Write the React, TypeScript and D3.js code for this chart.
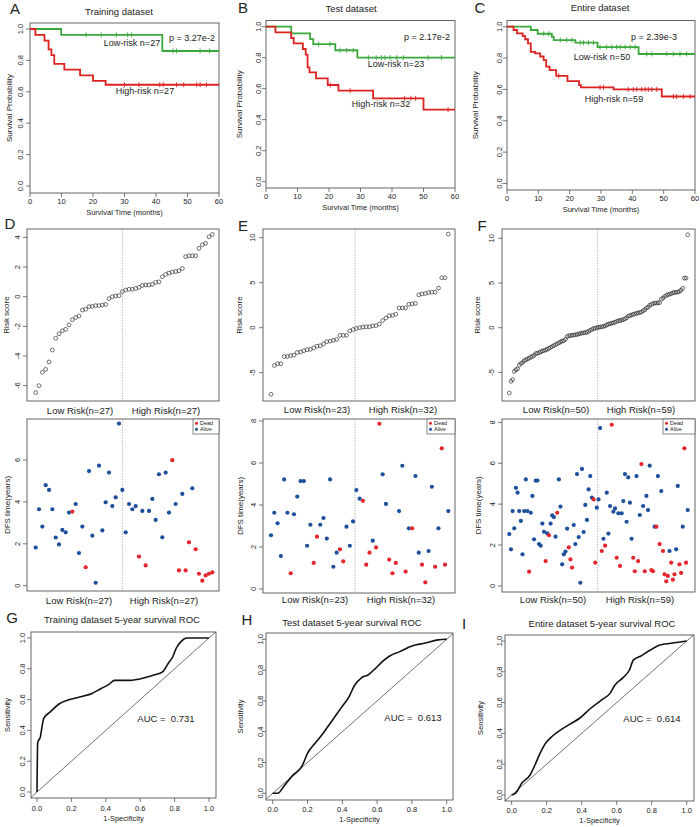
import React from "react";
import * as d3 from "d3";

const FONT = "Arial, 'Liberation Sans', Helvetica, sans-serif";
const TXT = "#222";
const AX = "#555";
const GREEN = "#3aa83a";
const RED = "#dd2222";
const DOT_RED = "#e3262b";
const DOT_BLUE = "#1d4f9c";

// ---------------- Kaplan–Meier data (months, survival probability) ----------------
const kmA_lowT = [0, 9.9, 42];
const kmA_lowS = [1, 0.963, 0.86];
const kmA_lowC = [17.8, 22.6, 27.4, 31, 32.2, 45.4, 46.5, 54, 57];
const kmA_highT = [0, 1.7, 4.6, 5.9, 6.8, 7.7, 10.9, 15.9, 20, 24];
const kmA_highS = [1, 0.963, 0.926, 0.87, 0.833, 0.778, 0.741, 0.704, 0.67, 0.645];
const kmA_highC = [30, 34.6, 41.2, 42.3, 46.5, 48.8, 52.9, 54, 56];

const kmB_lowT = [0, 8, 14, 15, 22, 29];
const kmB_lowS = [1, 0.957, 0.92, 0.887, 0.848, 0.8];
const kmB_lowC = [16.7, 20.3, 23.5, 25.6, 27.7, 32.5, 35, 36.7, 37.8, 39.4, 41.5, 43.6, 51.5, 55.7];
const kmB_highT = [0, 3, 8, 8.8, 11.7, 12.6, 13.2, 13.8, 15.9, 19.6, 23, 34, 50];
const kmB_highS = [1, 0.963, 0.927, 0.892, 0.856, 0.82, 0.738, 0.705, 0.667, 0.624, 0.587, 0.538, 0.465];
const kmB_highC = [20.4, 26.7, 44, 46, 47.5, 57.8];

const kmC_lowT = [0, 7.6, 9.8, 14.3, 14.9, 21.8, 28.9, 42];
const kmC_lowS = [1, 0.979, 0.955, 0.936, 0.915, 0.898, 0.87, 0.826];
const kmC_lowC = [11.7, 13.3, 17, 19.1, 20.7, 23.4, 24.4, 26, 27.6, 29.7, 31.8, 33.4, 35, 36.1, 37.7, 39.3, 40.9, 44.6, 46.2, 51, 53.1, 55.2, 57.3];
const kmC_highT = [0, 2.1, 3.2, 5, 5.8, 6.7, 7.6, 9, 10.6, 11.7, 12.5, 13.6, 15.7, 19.3, 23, 23.6, 34, 49.4];
const kmC_highS = [1, 0.979, 0.957, 0.94, 0.92, 0.894, 0.84, 0.83, 0.81, 0.787, 0.745, 0.723, 0.687, 0.653, 0.628, 0.613, 0.6, 0.555];
const kmC_highC = [16.5, 29.7, 30.8, 38.7, 40.3, 41.4, 43, 44.1, 45.1, 46.2, 47.8, 53.1, 54.1, 56.3, 58.4];

// ---------------- Risk scores (sorted) ----------------
const riskD = [-6.47, -6.0, -5.1, -4.9, -4.4, -3.6, -2.8, -2.5, -2.3, -2.2, -1.9, -1.55, -1.4, -1.3, -0.9, -0.85, -0.67, -0.65, -0.6, -0.6, -0.56, -0.52, -0.13, 0.0, 0.05, 0.07, 0.34,
  0.45, 0.5, 0.5, 0.56, 0.63, 0.76, 0.79, 0.79, 0.83, 0.97, 1.0, 1.35, 1.5, 1.6, 1.66, 1.7, 1.75, 1.9, 2.7, 2.76, 2.76, 2.76, 3.26, 3.5, 3.6, 4.04, 4.2];
const riskE = [-7.4, -4.2, -4.0, -4.0, -3.2, -3.2, -3.1, -3.05, -2.75, -2.7, -2.55, -2.45, -2.4, -2.25, -2.05, -2.0, -1.8, -1.55, -1.5, -1.4, -1.3, -0.85, -0.85, -0.85,
  -0.35, -0.2, -0.08, 0.0, 0.08, 0.1, 0.1, 0.2, 0.23, 0.4, 0.8, 1.07, 1.33, 1.37, 1.5, 2.2, 2.2, 2.2, 2.6, 2.65, 2.7, 3.65, 3.75, 3.8, 3.9, 3.95, 3.95, 4.4, 5.55, 5.55, 10.4];
const riskF = [-7.3, -6.0, -5.8, -4.9, -4.7, -4.6, -4.2, -4.0, -3.9, -3.7, -3.6, -3.5, -3.4, -3.3, -3.2, -3.1, -2.9, -2.85, -2.8, -2.7,
  -2.6, -2.55, -2.5, -2.4, -2.3, -2.2, -2.1, -2.0, -1.9, -1.8, -1.7, -1.6, -1.5, -1.45, -1.3, -1.0, -0.9, -0.88, -0.85, -0.82,
  -0.8, -0.75, -0.7, -0.65, -0.6, -0.58, -0.55, -0.5, -0.4, -0.3, -0.2, -0.1, -0.05, 0.0, 0.05, 0.07, 0.1, 0.15, 0.2, 0.3,
  0.4, 0.45, 0.5, 0.55, 0.6, 0.7, 0.78, 0.8, 0.85, 0.9, 1.0, 1.1, 1.3, 1.35, 1.4, 1.5, 1.55, 1.6, 1.65, 1.7,
  1.75, 1.9, 2.0, 2.2, 2.3, 2.5, 2.6, 2.7, 2.75, 2.76, 2.77, 2.8, 3.2, 3.3, 3.5, 3.6, 3.7, 3.75, 3.8, 3.9,
  3.95, 3.95, 4.0, 4.04, 4.2, 4.4, 5.55, 5.55, 10.4];

// ---------------- DFS time (years) and status (1 = dead, 0 = alive) ----------------
const dfsD = [1.82, 3.65, 2.82, 4.8, 4.57, 3.65, 2.3, 1.97, 2.66, 2.55, 3.49, 3.54, 3.9, 1.56, 2.82, 0.88, 5.47, 2.39, 0.14, 5.73, 2.64, 3.98, 5.4, 3.8, 4.22, 7.74, 4.57,
  2.55, 3.9, 3.65, 3.8, 1.39, 3.57, 0.97, 3.57, 4.14, 3.14, 5.32, 2.31, 5.4, 3.49, 5.99, 3.9, 0.73, 4.38, 0.73, 2.07, 4.65, 1.74, 0.57, 0.24, 0.49, 0.57, 0.64];
const deadD = [0, 0, 0, 0, 0, 0, 0, 0, 0, 0, 0, 1, 0, 0, 0, 1, 0, 0, 0, 0, 0, 0, 0, 0, 0, 0, 0,
  0, 0, 0, 0, 1, 0, 1, 0, 0, 0, 0, 0, 0, 0, 1, 0, 1, 0, 1, 1, 0, 1, 1, 1, 1, 1, 1];
const dfsE = [2.56, 3.63, 3.13, 1.57, 5.22, 3.63, 0.75, 3.56, 4.4, 5.14, 5.14, 2.06, 3.06, 1.24, 2.49, 3.06, 3.38, 2.4, 5.22, 1.06, 1.73, 1.89, 1.32, 2.97, 2.06, 3.22, 4.71,
  4.3, 4.2, 1.16, 1.73, 2.3, 1.98, 7.87, 5.46, 4.05, 1.4, 0.75, 1.24, 3.71, 5.87, 0.83, 2.89, 2.89, 5.38, 1.73, 1.16, 0.32, 1.81, 4.87, 1.06, 2.89, 6.7, 1.16, 3.71];
const deadE = [0, 0, 0, 0, 0, 0, 1, 0, 0, 0, 0, 0, 0, 1, 1, 0, 0, 0, 0, 0, 0, 1, 1, 0, 0, 0, 0,
  0, 1, 1, 1, 0, 1, 1, 0, 0, 1, 1, 1, 0, 0, 1, 0, 1, 0, 0, 1, 1, 0, 0, 1, 0, 1, 1, 0];
const dfsF = [2.54, 1.79, 3.66, 2.82, 4.8, 4.56, 3.66, 3.18, 1.55, 3.66, 5.21, 3.66, 0.7, 3.58, 4.4, 2.28, 5.15, 5.15, 2.05, 1.97,
  3.05, 2.65, 1.22, 2.57, 2.48, 3.05, 3.45, 3.37, 2.41, 3.58, 5.21, 3.88, 1.06, 1.55, 1.68, 2.8, 1.89, 1.3, 0.9, 2.98,
  2.05, 5.47, 2.39, 0.16, 5.72, 2.64, 3.96, 3.23, 4.72, 5.37, 4.32, 4.23, 1.14, 3.83, 4.23, 7.72,
  1.71, 2.31, 1.97, 4.56, 2.56, 3.91, 7.88, 3.63, 3.79, 1.38, 3.55, 0.98, 3.55, 4.15, 5.47, 3.14, 5.31, 4.07, 2.31, 1.38,
  0.72, 5.37, 1.22, 3.47, 5.96, 3.91, 0.72, 4.4, 3.71, 5.88, 0.78, 0.72, 2.9, 2.9, 5.37, 2.05, 4.64, 1.71, 0.57, 0.23,
  0.49, 1.71, 1.14, 0.31, 0.57, 1.79, 4.89, 1.06, 0.64, 2.9, 6.73, 1.14, 3.71];
const deadF = [0, 0, 0, 0, 0, 0, 0, 0, 0, 0, 0, 0, 1, 0, 0, 0, 0, 0, 0, 0,
  0, 0, 1, 0, 1, 0, 0, 0, 0, 1, 0, 0, 0, 0, 0, 0, 1, 1, 1, 0,
  0, 0, 0, 0, 0, 0, 0, 0, 0, 0, 0, 1, 1, 0, 0, 0,
  1, 0, 1, 0, 0, 0, 1, 0, 0, 1, 0, 1, 0, 0, 0, 0, 0, 0, 0, 1,
  1, 0, 1, 0, 1, 0, 1, 0, 0, 0, 1, 1, 0, 1, 0, 1, 0, 1, 1, 1,
  1, 0, 1, 1, 1, 0, 0, 1, 1, 0, 1, 1, 0];

// ---------------- ROC curves ----------------
const rocG_fpr = [0, 0.004, 0.02, 0.03, 0.04, 0.077, 0.126, 0.19, 0.26, 0.32, 0.37, 0.42, 0.45, 0.54, 0.62, 0.68, 0.73, 0.76, 0.79, 0.81, 0.84, 0.87, 1];
const rocG_tpr = [0, 0.32, 0.36, 0.43, 0.48, 0.52, 0.57, 0.6, 0.62, 0.64, 0.67, 0.7, 0.725, 0.725, 0.74, 0.76, 0.78, 0.83, 0.88, 0.935, 0.98, 1, 1];
const rocH_fpr = [0, 0.03, 0.06, 0.11, 0.17, 0.2, 0.24, 0.29, 0.34, 0.39, 0.44, 0.47, 0.51, 0.55, 0.59, 0.63, 0.67, 0.73, 0.8, 0.87, 0.95, 1];
const rocH_tpr = [0, 0, 0.04, 0.11, 0.18, 0.26, 0.32, 0.39, 0.47, 0.55, 0.63, 0.7, 0.75, 0.77, 0.81, 0.855, 0.89, 0.92, 0.957, 0.974, 0.996, 1];
const rocI_fpr = [0, 0.025, 0.057, 0.105, 0.133, 0.162, 0.19, 0.23, 0.276, 0.333, 0.39, 0.448, 0.514, 0.562, 0.59, 0.638, 0.672, 0.695, 0.743, 0.79, 0.848, 0.943, 1];
const rocI_tpr = [0, 0.015, 0.076, 0.13, 0.195, 0.27, 0.33, 0.38, 0.42, 0.46, 0.5, 0.56, 0.617, 0.66, 0.714, 0.764, 0.81, 0.876, 0.905, 0.94, 0.974, 0.99, 1];

const kmXTicks = [0, 10, 20, 30, 40, 50, 60];
const kmYTicks = [0, 0.2, 0.4, 0.6, 0.8, 1.0];
const rocTicks = [0, 0.2, 0.4, 0.6, 0.8, 1.0];
const riskTicksD = [-6, -4, -2, 0, 2, 4];
const riskTicksEF = [-5, 0, 5, 10];
const dfsTicksD = [0, 2, 4, 6];
const dfsTicksEF = [0, 2, 4, 6, 8];

// ---------------- helpers ----------------
function survAt(T: number[], S: number[], t: number) {
  let s = S[0];
  for (let i = 0; i < T.length; i++) if (T[i] <= t) s = S[i];
  return s;
}

function YAxis({ scale, ticks, x0, lx, fmt, fs = 7.5 }: any) {
  return (
    <g>
      {ticks.map((v: number, i: number) => (
        <g key={i}>
          <line x1={x0 - 4} x2={x0} y1={scale(v)} y2={scale(v)} stroke={AX} strokeWidth={0.8} />
          <text transform={`translate(${lx},${scale(v)}) rotate(-90)`} textAnchor="middle" dominantBaseline="central" fontSize={fs} fill={TXT}>
            {fmt(v)}
          </text>
        </g>
      ))}
    </g>
  );
}

function XAxis({ scale, ticks, y0, ly, fmt, fs = 7.5 }: any) {
  return (
    <g>
      {ticks.map((v: number, i: number) => (
        <g key={i}>
          <line x1={scale(v)} x2={scale(v)} y1={y0} y2={y0 + 4} stroke={AX} strokeWidth={0.8} />
          <text x={scale(v)} y={ly} textAnchor="middle" dominantBaseline="central" fontSize={fs} fill={TXT}>
            {fmt(v)}
          </text>
        </g>
      ))}
    </g>
  );
}

function VText({ x, y, children, fs = 8 }: any) {
  return (
    <text transform={`translate(${x},${y}) rotate(-90)`} textAnchor="middle" dominantBaseline="central" fontSize={fs} fill={TXT}>
      {children}
    </text>
  );
}

function Txt({ x, y, children, fs = 9, anchor = "middle" }: any) {
  return (
    <text x={x} y={y} textAnchor={anchor} dominantBaseline="central" fontSize={fs} fill={TXT} style={{ whiteSpace: "pre" }}>
      {children}
    </text>
  );
}

const f1 = (v: number) => v.toFixed(1);
const f0 = (v: number) => String(v);

// ---------------- KM panel ----------------
function KMPanel({ p }: any) {
  const [l, t, r, b] = p.box;
  const x = d3.scaleLinear().domain([0, 60]).range([l, r]);
  const y = d3.scaleLinear().domain([0, 1]).range([p.y0, p.y1]);
  const line = d3.line<number[]>().x((d) => x(d[0])).y((d) => y(d[1])).curve(d3.curveStepAfter);
  const groups = [
    { T: p.lowT, S: p.lowS, C: p.lowC, color: GREEN },
    { T: p.highT, S: p.highS, C: p.highC, color: RED },
  ];
  return (
    <g>
      <rect x={l} y={t} width={r - l} height={b - t} fill="none" stroke={AX} strokeWidth={0.9} />
      {groups.map((g, gi) => {
        const pts = g.T.map((tt: number, i: number) => [tt, g.S[i]]);
        pts.push([60, g.S[g.S.length - 1]]);
        return (
          <g key={gi}>
            <path d={line(pts) || ""} fill="none" stroke={g.color} strokeWidth={1.8} />
            {g.C.map((c: number, ci: number) => {
              const yy = y(survAt(g.T, g.S, c));
              return <line key={ci} x1={x(c)} x2={x(c)} y1={yy - 2.5} y2={yy + 2.5} stroke={g.color} strokeWidth={0.9} />;
            })}
          </g>
        );
      })}
      <YAxis scale={y} ticks={kmYTicks} x0={l} lx={p.ytx} fmt={f1} />
      <XAxis scale={x} ticks={kmXTicks} y0={b} ly={b + 8} fmt={f0} />
      <Txt x={(l + r) / 2} y={b + 19} fs={7.5}>Survival Time (months)</Txt>
      <VText x={p.ylx} y={(t + b) / 2} fs={8}>Survival Probability</VText>
      <Txt x={p.title[1]} y={p.title[2]} fs={9.5}>{p.title[0]}</Txt>
      <Txt x={p.letter[1]} y={p.letter[2]} fs={15}>{p.letter[0]}</Txt>
      <Txt x={p.pv[1]} y={p.pv[2]} fs={9}>{p.pv[0]}</Txt>
      <Txt x={p.lowLab[1]} y={p.lowLab[2]} fs={9}>{p.lowLab[0]}</Txt>
      <Txt x={p.highLab[1]} y={p.highLab[2]} fs={9}>{p.highLab[0]}</Txt>
    </g>
  );
}

// ---------------- Risk score panel ----------------
function RiskPanel({ p }: any) {
  const [l, t, r, b] = p.box;
  const n = p.data.length;
  const x = d3.scaleLinear().domain([1, n]).range(p.xr);
  const y = d3.scaleLinear().domain(p.yd).range(p.yr);
  return (
    <g>
      <rect x={l} y={t} width={r - l} height={b - t} fill="none" stroke={AX} strokeWidth={0.9} />
      <line x1={x(p.div)} x2={x(p.div)} y1={t} y2={b} stroke="#888" strokeWidth={0.7} strokeDasharray="1.2,1.4" />
      {p.data.map((v: number, i: number) => (
        <circle key={i} cx={x(i + 1)} cy={y(v)} r={1.9} fill="none" stroke="#333" strokeWidth={0.7} />
      ))}
      <YAxis scale={y} ticks={p.ticks} x0={l} lx={p.ytx} fmt={f0} />
      <VText x={p.ylx} y={(t + b) / 2} fs={8}>Risk score</VText>
      <Txt x={p.lowL[0]} y={p.labY} fs={9.5}>{p.lowL[1]}</Txt>
      <Txt x={p.highL[0]} y={p.labY} fs={9.5}>{p.highL[1]}</Txt>
      <Txt x={p.letter[1]} y={p.letter[2]} fs={15}>{p.letter[0]}</Txt>
    </g>
  );
}

// ---------------- DFS scatter panel ----------------
function DfsPanel({ p }: any) {
  const [l, t, r, b] = p.box;
  const n = p.data.length;
  const x = d3.scaleLinear().domain([1, n]).range(p.xr);
  const y = d3.scaleLinear().domain(p.yd).range(p.yr);
  const lg = p.legX;
  return (
    <g>
      <rect x={l} y={t} width={r - l} height={b - t} fill="none" stroke={AX} strokeWidth={0.9} />
      <line x1={x(p.div)} x2={x(p.div)} y1={t} y2={b} stroke="#888" strokeWidth={0.7} strokeDasharray="1.2,1.4" />
      {p.data.map((v: number, i: number) => (
        <circle key={i} cx={x(i + 1)} cy={y(v)} r={2.1} fill={p.dead[i] ? DOT_RED : DOT_BLUE} />
      ))}
      <rect x={lg} y={t} width={r - lg} height={15} fill="white" stroke={AX} strokeWidth={0.7} />
      <circle cx={lg + 3.5} cy={t + 4.2} r={1.5} fill={DOT_RED} />
      <circle cx={lg + 3.5} cy={t + 10.2} r={1.5} fill={DOT_BLUE} />
      <Txt x={lg + 7} y={t + 4.2} fs={5.5} anchor="start">Dead</Txt>
      <Txt x={lg + 7} y={t + 10.2} fs={5.5} anchor="start">Alive</Txt>
      <YAxis scale={y} ticks={p.ticks} x0={l} lx={p.ytx} fmt={f0} />
      <VText x={p.ylx} y={(t + b) / 2} fs={8}>DFS time(years)</VText>
      <Txt x={p.lowL[0]} y={p.labY} fs={9.5}>{p.lowL[1]}</Txt>
      <Txt x={p.highL[0]} y={p.labY} fs={9.5}>{p.highL[1]}</Txt>
    </g>
  );
}

// ---------------- ROC panel ----------------
function RocPanel({ p }: any) {
  const [l, t, r, b] = p.box;
  const x = d3.scaleLinear().domain([0, 1]).range(p.xr);
  const y = d3.scaleLinear().domain([0, 1]).range(p.yr);
  const line = d3.line<number>().x((d, i) => x(p.fpr[i])).y((d, i) => y(p.tpr[i])).curve(d3.curveMonotoneX);
  const lo = x.invert(l), hi = x.invert(r);
  const lo2 = Math.max(lo, y.invert(b)), hi2 = Math.min(hi, y.invert(t));
  return (
    <g>
      <rect x={l} y={t} width={r - l} height={b - t} fill="none" stroke={AX} strokeWidth={0.9} />
      <line x1={x(lo2)} y1={y(lo2)} x2={x(hi2)} y2={y(hi2)} stroke="#333" strokeWidth={0.7} />
      <path d={line(p.fpr) || ""} fill="none" stroke="#111" strokeWidth={1.6} />
      <YAxis scale={y} ticks={rocTicks} x0={l} lx={p.ytx} fmt={f1} />
      <XAxis scale={x} ticks={rocTicks} y0={b} ly={p.xty} fmt={f1} />
      <Txt x={(l + r) / 2} y={p.xty + 10} fs={7.5}>1-Specificity</Txt>
      <VText x={p.ylx} y={(t + b) / 2} fs={7.5}>Sensitivity</VText>
      <Txt x={p.title[1]} y={p.title[2]} fs={9.5}>{p.title[0]}</Txt>
      <Txt x={p.letter[1]} y={p.letter[2]} fs={15}>{p.letter[0]}</Txt>
      <Txt x={p.auc[1]} y={p.auc[2]} fs={9.5}>{p.auc[0]}</Txt>
    </g>
  );
}

const kmPanels = [
  { box: [30, 23, 219, 193], y0: 186, y1: 29, ytx: 20, ylx: 9, lowT: kmA_lowT, lowS: kmA_lowS, lowC: kmA_lowC, highT: kmA_highT, highS: kmA_highS, highC: kmA_highC,
    title: ["Training dataset", 119, 11], letter: ["A", 15, 8], pv: ["p = 3.27e-2", 192, 38], lowLab: ["Low-risk n=27", 132, 43], highLab: ["High-risk n=27", 145, 91] },
  { box: [266, 20.5, 455, 188], y0: 181.7, y1: 26.7, ytx: 258, ylx: 239, lowT: kmB_lowT, lowS: kmB_lowS, lowC: kmB_lowC, highT: kmB_highT, highS: kmB_highS, highC: kmB_highC,
    title: ["Test dataset", 351, 8], letter: ["B", 243, 7], pv: ["p = 2.17e-2", 427, 37], lowLab: ["Low-risk n=23", 396, 64], highLab: ["High-risk n=32", 381, 104] },
  { box: [507, 20.5, 695, 190], y0: 183.5, y1: 26.7, ytx: 499, ylx: 475, lowT: kmC_lowT, lowS: kmC_lowS, lowC: kmC_lowC, highT: kmC_highT, highS: kmC_highS, highC: kmC_highC,
    title: ["Entire dataset", 600, 7], letter: ["C", 480, 7], pv: ["p = 2.39e-3", 654, 37], lowLab: ["Low-risk n=50", 602, 57], highLab: ["High-risk n=59", 614, 99] },
];

const riskPanels = [
  { box: [27, 229, 219, 401], data: riskD, xr: [35.7, 212.3], yd: [0, 4], yr: [296.7, 237.4], ticks: riskTicksD, div: 27, ytx: 17, ylx: 6,
    lowL: [80, "Low Risk(n=27)"], highL: [166, "High Risk(n=27)"], labY: 410, letter: ["D", 10, 223] },
  { box: [263, 229, 455, 401], data: riskE, xr: [271, 448.3], yd: [0, 10], yr: [327.7, 237.7], ticks: riskTicksEF, div: 26.6, ytx: 252, ylx: 239,
    lowL: [317, "Low Risk(n=23)"], highL: [403, "High Risk(n=32)"], labY: 409, letter: ["E", 243, 225] },
  { box: [502, 229, 695, 401], data: riskF, xr: [509.3, 687.7], yd: [0, 10], yr: [327.7, 238.3], ticks: riskTicksEF, div: 54.5, ytx: 491, ylx: 477,
    lowL: [556, "Low Risk(n=50)"], highL: [641, "High Risk(n=59)"], labY: 409, letter: ["F", 482, 225] },
];

const dfsPanels = [
  { box: [27, 419, 219, 591], data: dfsD, dead: deadD, xr: [35.7, 212.3], yd: [0, 6], yr: [585.7, 460], ticks: dfsTicksD, div: 27, ytx: 17, ylx: 7, legX: 193,
    lowL: [79, "Low Risk(n=27)"], highL: [164, "High Risk(n=27)"], labY: 600 },
  { box: [263, 419, 455, 593], data: dfsE, dead: deadE, xr: [271, 448.3], yd: [0, 8], yr: [589, 421], ticks: dfsTicksEF, div: 26.6, ytx: 253, ylx: 240, legX: 427,
    lowL: [315, "Low Risk(n=23)"], highL: [401, "High Risk(n=32)"], labY: 599 },
  { box: [502, 419, 695, 592], data: dfsF, dead: deadF, xr: [509.3, 687.7], yd: [0, 8], yr: [586, 422.3], ticks: dfsTicksEF, div: 54.5, ytx: 492, ylx: 478, legX: 663,
    lowL: [553, "Low Risk(n=50)"], highL: [640, "High Risk(n=59)"], labY: 599 },
];

const rocPanels = [
  { box: [31, 632, 216, 798], xr: [37, 209], yr: [792, 638], fpr: rocG_fpr, tpr: rocG_tpr, ytx: 22, ylx: 7, xty: 808,
    title: ["Training dataset 5-year survival ROC", 122, 619], letter: ["G", 12, 617], auc: ["AUC =\u00a0 0.731", 166, 718] },
  { box: [266, 633, 453, 800], xr: [272.7, 446.7], yr: [793.3, 639.3], fpr: rocH_fpr, tpr: rocH_tpr, ytx: 260, ylx: 240, xty: 809,
    title: ["Test dataset 5-year survival ROC", 352, 622], letter: ["H", 247, 619], auc: ["AUC =\u00a0 0.613", 413, 717] },
  { box: [505, 635, 694, 801], xr: [511.7, 686.7], yr: [795, 641], fpr: rocI_fpr, tpr: rocI_tpr, ytx: 499, ylx: 480, xty: 810,
    title: ["Entire dataset 5-year survival ROC", 602, 623], letter: ["I", 464, 623], auc: ["AUC =\u00a0 0.614", 652, 718] },
];

export default function App() {
  return (
    <div style={{ position: "absolute", left: 0, top: 0 }}>
      <svg width={700} height={827} style={{ display: "block", background: "white", fontFamily: FONT }}>
        {kmPanels.map((p, i) => <KMPanel key={i} p={p} />)}
        {riskPanels.map((p, i) => <RiskPanel key={i} p={p} />)}
        {dfsPanels.map((p, i) => <DfsPanel key={i} p={p} />)}
        {rocPanels.map((p, i) => <RocPanel key={i} p={p} />)}
      </svg>
    </div>
  );
}
